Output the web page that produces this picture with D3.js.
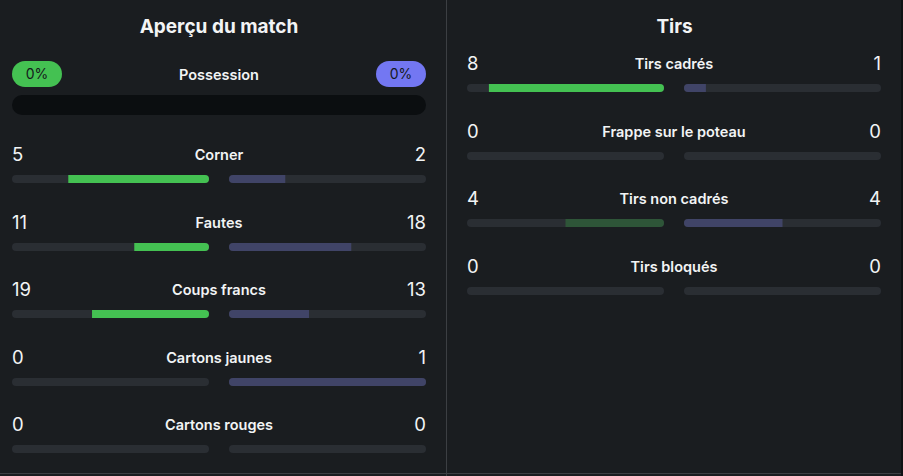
<!DOCTYPE html>
<html>
<head>
<meta charset="utf-8">
<script src="https://cdn.jsdelivr.net/npm/d3@7"></script>
<style>
  html, body { margin: 0; padding: 0; background: #1a1d20; }
  svg { display: block; }
  text { font-family: Inter, "Noto Sans", sans-serif; fill: #f2f4f5; }
</style>
</head>
<body>
<svg id="stats"></svg>
<script>
const width = 903;
const height = 476;

// données du match
const possession = [0, 0];
const overviewLabels = ["Corner", "Fautes", "Coups francs", "Cartons jaunes", "Cartons rouges"];
const overviewHome = [5, 11, 19, 0, 0];
const overviewAway = [2, 18, 13, 1, 0];
const shotLabels = ["Tirs cadrés", "Frappe sur le poteau", "Tirs non cadrés", "Tirs bloqués"];
const shotHome = [8, 0, 4, 0];
const shotAway = [1, 0, 4, 0];

const green = "#44c152";
const greenDim = "#2e5538";
const blueDim = "#404467";
const track = "#2a2e33";

const svg = d3.select("#stats")
    .attr("width", width)
    .attr("height", height);

svg.append("rect").attr("width", width).attr("height", height).attr("fill", "#1a1d20");

// séparateurs
svg.append("line").attr("x1", 446.5).attr("x2", 446.5).attr("y1", 0).attr("y2", 476)
    .attr("stroke", "#3c3f43").attr("stroke-width", 1);
svg.append("line").attr("x1", 0).attr("x2", width).attr("y1", 473.5).attr("y2", 473.5)
    .attr("stroke", "#3c3f43").attr("stroke-width", 1);
svg.append("rect").attr("x", 901).attr("y", 0).attr("width", 2).attr("height", height).attr("fill", "#0f1113");

const barW = 197, barH = 8, gap = 20, rowStep = 67.5;
let clipId = 0;

function drawRows(g, x0, y0, labels, home, away) {
    labels.forEach((label, i) => {
        const top = Math.round(y0 + i * rowStep);
        const total = home[i] + away[i];
        const scale = d3.scaleLinear().domain([0, total || 1]).range([0, barW]);
        const leftX = x0, rightX = x0 + barW + gap;
        const row = g.append("g");

        row.append("text").attr("x", leftX).attr("y", top - 14)
            .attr("font-size", 18.5).attr("font-weight", 400).text(home[i]);
        row.append("text").attr("x", rightX + barW).attr("y", top - 14)
            .attr("text-anchor", "end").attr("font-size", 18.5).attr("font-weight", 400).text(away[i]);
        row.append("text").attr("x", x0 + barW + gap / 2).attr("y", top - 15)
            .attr("text-anchor", "middle").attr("font-size", 14.5).attr("font-weight", 600).text(label);

        // barre gauche
        const idL = "clip" + (clipId++);
        row.append("clipPath").attr("id", idL).append("rect")
            .attr("x", leftX).attr("y", top).attr("width", barW).attr("height", barH).attr("rx", 4);
        row.append("rect").attr("x", leftX).attr("y", top).attr("width", barW).attr("height", barH)
            .attr("rx", 4).attr("fill", track);
        row.append("rect").attr("clip-path", `url(#${idL})`)
            .attr("x", leftX + barW - scale(home[i])).attr("y", top)
            .attr("width", scale(home[i])).attr("height", barH)
            .attr("fill", home[i] === away[i] ? greenDim : green);

        // barre droite
        const idR = "clip" + (clipId++);
        row.append("clipPath").attr("id", idR).append("rect")
            .attr("x", rightX).attr("y", top).attr("width", barW).attr("height", barH).attr("rx", 4);
        row.append("rect").attr("x", rightX).attr("y", top).attr("width", barW).attr("height", barH)
            .attr("rx", 4).attr("fill", track);
        row.append("rect").attr("clip-path", `url(#${idR})`)
            .attr("x", rightX).attr("y", top)
            .attr("width", scale(away[i])).attr("height", barH)
            .attr("fill", blueDim);
    });
}

// panneau gauche
const left = svg.append("g");
left.append("text").attr("x", 219).attr("y", 33).attr("text-anchor", "middle")
    .attr("font-size", 19).attr("font-weight", 700).text("Aperçu du match");

// possession
left.append("rect").attr("x", 12).attr("y", 61).attr("width", 50).attr("height", 26).attr("rx", 13).attr("fill", green);
left.append("text").attr("x", 37).attr("y", 79).attr("text-anchor", "middle")
    .attr("font-size", 14).style("fill", "#15191c").text(possession[0] + "%");
left.append("rect").attr("x", 376).attr("y", 61).attr("width", 50).attr("height", 26).attr("rx", 13).attr("fill", "#7377f2");
left.append("text").attr("x", 401).attr("y", 79).attr("text-anchor", "middle")
    .attr("font-size", 14).style("fill", "#15191c").text(possession[1] + "%");
left.append("text").attr("x", 219).attr("y", 80).attr("text-anchor", "middle")
    .attr("font-size", 14.5).attr("font-weight", 600).text("Possession");
left.append("rect").attr("x", 12).attr("y", 95).attr("width", 414).attr("height", 20).attr("rx", 10).attr("fill", "#0b0e10");

drawRows(left, 12, 175, overviewLabels, overviewHome, overviewAway);

// panneau droit
const right = svg.append("g");
right.append("text").attr("x", 674.5).attr("y", 33).attr("text-anchor", "middle")
    .attr("font-size", 19).attr("font-weight", 700).text("Tirs");

drawRows(right, 467, 84, shotLabels, shotHome, shotAway);
</script>
</body>
</html>
